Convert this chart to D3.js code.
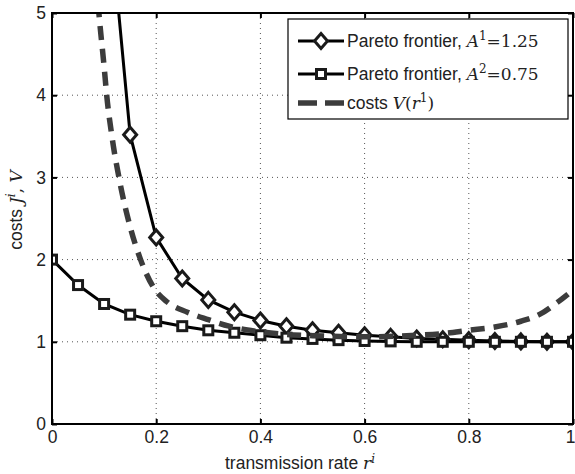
<!DOCTYPE html>
<html lang="en">
<head>
<meta charset="utf-8">
<title>pareto frontier</title>
<script src="https://cdn.jsdelivr.net/npm/d3@7"></script>
<style>
  body{margin:0;background:#fff;}
  svg{display:block;font-family:"Liberation Sans",Arial,sans-serif;}
  .math{font-family:"DejaVu Serif","Liberation Serif",serif;}
</style>
</head>
<body>
<div id="chart"></div>
<script>
// rates where the frontier points sit
var ratesA1 = [0.1,0.15,0.2,0.25,0.3,0.35,0.4,0.45,0.5,0.55,0.6,0.65,0.7,0.75,0.8,0.85,0.9,0.95,1.0]
var costsA1 = [6.9,3.52,2.27,1.77,1.51,1.36,1.26,1.19,1.14,1.11,1.08,1.06,1.04,1.03,1.02,1.01,1.005,1.0,1.0]
var ratesA2 = [0,0.05,0.1,0.15,0.2,0.25,0.3,0.35,0.4,0.45,0.5,0.55,0.6,0.65,0.7,0.75,0.8,0.85,0.9,0.95,1.0]
var costsA2 = [2.0,1.69,1.46,1.33,1.25,1.19,1.14,1.11,1.08,1.05,1.035,1.02,1.01,1.005,1.0,1.0,1.0,1.0,1.0,1.0,1.0]
// cost curve V(r^1)
var ratesV = [0.085,0.09,0.1,0.105,0.115,0.13,0.15,0.17,0.195,0.22,0.26,0.3,0.34,0.39,0.45,0.5,0.6,0.7,0.75,0.8,0.85,0.9,0.935,0.97,1.0]
var costsV = [5.4,5.0,4.35,4.0,3.5,2.95,2.4,2.0,1.66,1.49,1.36,1.27,1.19,1.13,1.09,1.075,1.06,1.08,1.1,1.14,1.18,1.25,1.33,1.48,1.63]
var xTicks = [0,0.2,0.4,0.6,0.8,1]
var yTicks = [0,1,2,3,4,5]

var W = 575, H = 474
var m = {left:52, right:2, top:13, bottom:50}
var w = W - m.left - m.right
var h = H - m.top - m.bottom
var fs = 17.5
var lw = 3

var x = d3.scaleLinear().domain([0,1]).range([0,w])
var y = d3.scaleLinear().domain([0,5]).range([h,0])

var svg = d3.select("#chart").append("svg").attr("width",W).attr("height",H)
var g = svg.append("g").attr("transform","translate("+m.left+","+m.top+")")

g.append("clipPath").attr("id","clip").append("rect").attr("width",w).attr("height",h)

// dotted grid
g.selectAll(".gx").data(xTicks.slice(1,-1)).enter().append("line")
  .attr("x1",d=>x(d)).attr("x2",d=>x(d)).attr("y1",0).attr("y2",h)
  .attr("stroke","#555").attr("stroke-width",1).attr("stroke-dasharray","1,4")
g.selectAll(".gy").data(yTicks.slice(1,-1)).enter().append("line")
  .attr("y1",d=>y(d)).attr("y2",d=>y(d)).attr("x1",0).attr("x2",w)
  .attr("stroke","#555").attr("stroke-width",1).attr("stroke-dasharray","1,4")

// axes, ticks pointing inwards on all four sides
var tk = 5
var xAx = g.append("g").attr("transform","translate(0,"+h+")")
  .call(d3.axisBottom(x).tickValues(xTicks).tickSize(-tk).tickPadding(7).tickFormat(d3.format("")))
g.append("g").call(d3.axisLeft(y).tickValues(yTicks).tickSize(-tk).tickPadding(6).tickFormat(d3.format("")))
g.append("g").call(d3.axisTop(x).tickValues(xTicks).tickSize(-tk).tickFormat(""))
g.append("g").attr("transform","translate("+w+",0)")
  .call(d3.axisRight(y).tickValues(yTicks).tickSize(-tk).tickFormat(""))
g.selectAll(".domain").remove()
g.selectAll(".tick line").attr("stroke","#000").attr("stroke-width",2)
g.selectAll(".tick text").attr("font-size",fs).attr("fill","#222")
  .attr("font-family","'Liberation Sans',Arial,sans-serif")
// last x label would run off the page
xAx.selectAll(".tick text").filter(d=>d==1).attr("text-anchor","end").attr("dx",2)

var plot = g.append("g").attr("clip-path","url(#clip)")
var line = d3.line().x(d=>x(d[0])).y(d=>y(d[1]))

var dA1 = d3.zip(ratesA1,costsA1)
var dA2 = d3.zip(ratesA2,costsA2)
var dV = d3.zip(ratesV,costsV)

plot.append("path").datum(dA1).attr("d",line).attr("fill","none").attr("stroke","#000").attr("stroke-width",lw)
var diamond = "M0,-7.5L6.5,0L0,7.5L-6.5,0Z"
plot.selectAll(".dm").data(dA1).enter().append("path")
  .attr("d",diamond).attr("transform",d=>"translate("+x(d[0])+","+y(d[1])+")")
  .attr("fill","#fff").attr("stroke","#1a1a1a").attr("stroke-width",lw)

plot.append("path").datum(dA2).attr("d",line).attr("fill","none").attr("stroke","#000").attr("stroke-width",lw)
plot.selectAll(".sq").data(dA2).enter().append("rect")
  .attr("x",d=>x(d[0])-4.5).attr("y",d=>y(d[1])-4.5).attr("width",9).attr("height",9)
  .attr("fill","#fff").attr("stroke","#1a1a1a").attr("stroke-width",lw)

plot.append("path").datum(dV).attr("d",line.curve(d3.curveMonotoneX)).attr("fill","none")
  .attr("stroke","#3c3c3c").attr("stroke-width",5.5).attr("stroke-dasharray","14,9")

// frame
g.append("rect").attr("width",w).attr("height",h).attr("fill","none").attr("stroke","#000").attr("stroke-width",2)

// axis labels
var xl = svg.append("text").attr("x",300).attr("y",469).attr("text-anchor","middle")
  .attr("font-size",fs).attr("fill","#222")
xl.append("tspan").text("transmission rate ")
xl.append("tspan").attr("class","math").attr("font-style","italic").attr("font-size",17).text("r")
xl.append("tspan").attr("class","math").attr("font-style","italic").attr("font-size",12).attr("dy",-6).text("i")

var yl = svg.append("text").attr("transform","translate(22,210) rotate(-90)")
  .attr("text-anchor","middle").attr("font-size",fs).attr("fill","#222")
yl.append("tspan").text("costs ")
yl.append("tspan").attr("class","math").attr("font-style","italic").attr("font-size",17).text("J")
yl.append("tspan").attr("class","math").attr("font-style","italic").attr("font-size",12).attr("dy",-7).text("i")
yl.append("tspan").attr("class","math").attr("font-size",17).attr("dy",7).text(",  ")
yl.append("tspan").attr("class","math").attr("font-style","italic").attr("font-size",17).text("V")

// legend
var lg = svg.append("g").attr("transform","translate(288,19)")
lg.append("rect").attr("width",280).attr("height",100).attr("fill","#fff").attr("stroke","#000").attr("stroke-width",1.2)
var rows = [
  {y:22, kind:"diamond", sup:"1", val:"1.25"},
  {y:55, kind:"square", sup:"2", val:"0.75"},
  {y:84, kind:"dash"}
]
rows.forEach(function(r){
  if(r.kind=="dash"){
    lg.append("line").attr("x1",10).attr("x2",56).attr("y1",r.y).attr("y2",r.y)
      .attr("stroke","#3c3c3c").attr("stroke-width",5.5).attr("stroke-dasharray","19,8")
  } else {
    lg.append("line").attr("x1",10).attr("x2",56).attr("y1",r.y).attr("y2",r.y)
      .attr("stroke","#000").attr("stroke-width",lw)
    if(r.kind=="diamond"){
      lg.append("path").attr("d",diamond).attr("transform","translate(33,"+r.y+")")
        .attr("fill","#fff").attr("stroke","#1a1a1a").attr("stroke-width",lw)
    } else {
      lg.append("rect").attr("x",28.5).attr("y",r.y-4.5).attr("width",9).attr("height",9)
        .attr("fill","#fff").attr("stroke","#1a1a1a").attr("stroke-width",lw)
    }
  }
  var t = lg.append("text").attr("x",59).attr("y",r.y+6).attr("font-size",fs).attr("fill","#222")
  if(r.kind=="dash"){
    t.append("tspan").text("costs ")
    t.append("tspan").attr("class","math").attr("font-style","italic").attr("font-size",17).text("V")
    t.append("tspan").attr("class","math").attr("font-size",17).text("(")
    t.append("tspan").attr("class","math").attr("font-style","italic").attr("font-size",17).text("r")
    t.append("tspan").attr("class","math").attr("font-size",12).attr("dy",-7).text("1")
    t.append("tspan").attr("class","math").attr("font-size",17).attr("dy",7).text(")")
  } else {
    t.append("tspan").text("Pareto frontier, ")
    t.append("tspan").attr("class","math").attr("font-style","italic").attr("font-size",17).text("A")
    t.append("tspan").attr("class","math").attr("font-size",12).attr("dy",-7).text(r.sup)
    t.append("tspan").attr("class","math").attr("font-size",17).attr("dy",7).text("=" + r.val)
  }
})
</script>
</body>
</html>
